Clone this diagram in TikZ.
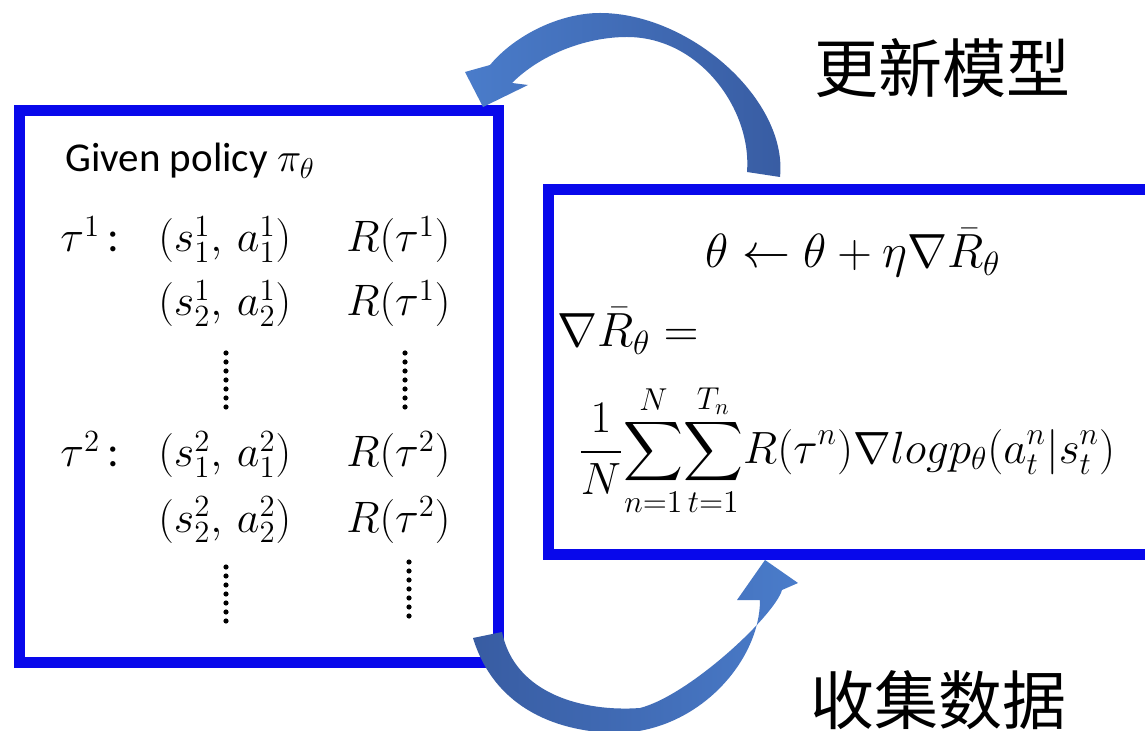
\RequirePackage{fix-cm}
\documentclass[tikz,border=0pt]{standalone}
\usepackage{amsmath}
\usepackage{fontspec}
\setmainfont{Carlito}
\newfontfamily\cjk{Noto Sans CJK SC}
\definecolor{boxblue}{RGB}{8,8,235}
\definecolor{arrowL}{RGB}{74,124,202}
\definecolor{arrowD}{RGB}{56,92,162}
\begin{document}
\begin{tikzpicture}[x=0.5pt,y=-0.5pt,
  bluebox/.style={draw=boxblue, line width=5.5pt, inner sep=0pt, fill=white},
  mtxt/.style={inner sep=0pt, anchor=base west, font=\fontsize{22}{26}\selectfont},
  rtxt/.style={inner sep=0pt, font=\fontsize{24}{28}\selectfont},
  cjktxt/.style={inner sep=0pt, font=\cjk\fontsize{32}{36}\selectfont},
  dotcol/.style={fill=black}]
\clip (0,0) rectangle (1145,731);
\fill[white] (0,0) rectangle (1145,731);
% boxes
\node[bluebox, minimum width=239.5pt, minimum height=275.5pt] (L) at (258.5,386.5) {};
\node[bluebox, minimum width=311pt, minimum height=182pt] (Rb) at (859,372) {};
% left box text
\node[inner sep=0pt, anchor=base west, font=\fontsize{20.5}{24}\selectfont] (given) at (65,172) {Given policy $\pi_\theta$};
\node[mtxt] (t1) at (60,252) {$\tau^1$\,:};
\node[mtxt] (sa11) at (158,252) {$(s_1^1,\,a_1^1)$};
\node[mtxt] (r11) at (346,252) {$R(\tau^1)$};
\node[mtxt] (sa21) at (158,316) {$(s_2^1,\,a_2^1)$};
\node[mtxt] (r21) at (346,316) {$R(\tau^1)$};
\node[mtxt] (t2) at (60,467) {$\tau^2$\,:};
\node[mtxt] (sa12) at (158,467) {$(s_1^2,\,a_1^2)$};
\node[mtxt] (r12) at (346,467) {$R(\tau^2)$};
\node[mtxt] (sa22) at (158,532) {$(s_2^2,\,a_2^2)$};
\node[mtxt] (r22) at (346,532) {$R(\tau^2)$};
\foreach \i in {0,...,6} {
  \fill[dotcol] (226,353+9*\i) circle (2.6);
  \fill[dotcol] (405,353+9*\i) circle (2.6);
  \fill[dotcol] (226,567+9*\i) circle (2.6);
  \fill[dotcol] (409,562+9*\i) circle (2.6);
}
% right box text
\node[rtxt, anchor=base] (upd) at (853,268) {$\theta \leftarrow \theta + \eta\nabla\bar{R}_\theta$};
\node[rtxt, anchor=base west] (grad) at (557,347) {$\nabla\bar{R}_\theta =$};
\node[inner sep=0pt, anchor=west, font=\fontsize{22.6}{27}\selectfont] (sum) at (578,450) {$\displaystyle \frac{1}{N}\!\sum_{n=1}^{N}\!\sum_{t=1}^{T_n}\! R(\tau^n)\nabla log p_\theta(a_t^n|s_t^n)$};
% curved block arrows
\shade[left color=arrowL, right color=arrowD]
  (780,177) .. controls (788,100) and (690,13) .. (600,13)
  .. controls (560,13) and (515,35) .. (490,65)
  -- (465,72) -- (483,107) -- (528,85) -- (512,83)
  .. controls (540,55) and (585,37) .. (627,37)
  .. controls (700,37) and (752,110) .. (747,172) -- cycle;
\shade[left color=arrowD, right color=arrowL]
  (473,638) .. controls (495,710) and (560,733) .. (620,733)
  .. controls (700,730) and (760,660) .. (760,600)
  -- (737,600) -- (765,560) -- (798,583) -- (782,590)
  .. controls (775,615) and (690,695) .. (640,708)
  .. controls (585,712) and (515,695) .. (502,632) -- cycle;
% labels
\node[cjktxt] (lupd) at (942,68) {更新模型};
\node[cjktxt] (lcol) at (938,700) {收集数据};
\end{tikzpicture}
\end{document}
